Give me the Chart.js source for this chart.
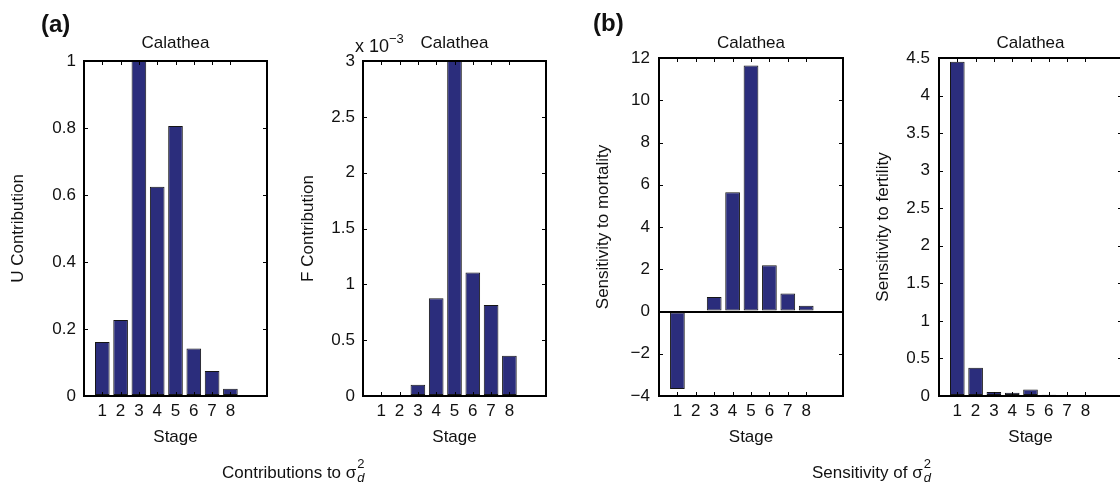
<!DOCTYPE html>
<html>
<head>
<meta charset="utf-8">
<script src="https://cdn.jsdelivr.net/npm/chart.js@4"></script>
<style>
  html, body { margin: 0; padding: 0; background: #fff; overflow: hidden; }
  body { width: 1120px; height: 487px; position: relative; font-family: "Liberation Sans", Arial, sans-serif; color: #111; }
  canvas { position: absolute; top: 0; }
  .txt { position: absolute; white-space: nowrap; font-size: 17px; line-height: 17px; }
  .panel { font-weight: bold; font-size: 24px; line-height: 24px; }
  .ss { position: relative; display: inline-block; width: 9px; height: 1px; }
  .ss .sup, .ss .sub { position: absolute; left: 1px; font-size: 13px; line-height: 13px; }
  .ss .sup { top: -20px; }
  .ss .sub { top: -6px; font-style: italic; }
  .exp { position: relative; top: -9px; font-size: 13px; }
</style>
</head>
<body>
<canvas id="c1" width="280" height="487" style="left:0px"></canvas>
<canvas id="c2" width="280" height="487" style="left:280px"></canvas>
<canvas id="c3" width="300" height="487" style="left:560px"></canvas>
<canvas id="c4" width="280" height="487" style="left:860px"></canvas>

<div class="txt panel" style="left:41px; top:12px">(a)</div>
<div class="txt panel" style="left:593px; top:11px">(b)</div>
<div class="txt" style="left:355px; top:38px; font-size:18px">x 10<span class="exp">&minus;3</span></div>
<div class="txt" style="left:222px; top:464px">Contributions to &sigma;<span class="ss"><span class="sup">2</span><span class="sub">d</span></span></div>
<div class="txt" style="left:812px; top:464px">Sensitivity of &sigma;<span class="ss"><span class="sup">2</span><span class="sub">d</span></span></div>

<script>
// Dati (stadi 1-8, specie Calathea)
const stages = [1, 2, 3, 4, 5, 6, 7, 8];
const uContribution = [0.161, 0.227, 1.0, 0.625, 0.806, 0.142, 0.075, 0.022];
const fContribution = [0, 0, 0.10, 0.875, 3.0, 1.105, 0.815, 0.36];   // x 10^-3
const sensMortality = [-3.67, 0, 0.69, 5.65, 11.65, 2.19, 0.85, 0.27];
const sensFertility = [4.45, 0.375, 0.053, 0.042, 0.085, 0.018, 0.01, 0.003];

const barColor = '#2b2d7c';
const fontFamily = "'Liberation Sans', Arial, sans-serif";
const plotTop = [61, 61, 58, 58];

// Plugin: cornice e tacche interne stile MATLAB
const matlabBox = {
    id: 'matlabBox',
    afterDraw(chart) {
        const { ctx, chartArea: a, scales } = chart;
        const len = 4;
        ctx.save();
        ctx.strokeStyle = '#000';
        ctx.lineWidth = 1;
        ctx.beginPath();
        scales.y.ticks.forEach(t => {
            const py = Math.round(scales.y.getPixelForValue(t.value)) + 0.5;
            ctx.moveTo(a.left, py); ctx.lineTo(a.left + len, py);
            ctx.moveTo(a.right, py); ctx.lineTo(a.right - len, py);
        });
        stages.forEach(s => {
            const px = Math.round(scales.x.getPixelForValue(s)) + 0.5;
            ctx.moveTo(px, a.bottom); ctx.lineTo(px, a.bottom - len);
            ctx.moveTo(px, a.top); ctx.lineTo(px, a.top + len);
        });
        ctx.stroke();
        ctx.lineWidth = 2;
        ctx.strokeRect(a.left, a.top, a.right - a.left, a.bottom - a.top);
        ctx.restore();
    }
};

function fmt(v) {
    return String(+v.toFixed(2)).replace('-', '\u2212');
}

// Crea un pannello a barre
function makePanel(id, values, yTitle, yMin, yMax, yStep, geom) {
    const ctx = document.getElementById(id).getContext('2d');
    const canvasW = ctx.canvas.width;
    return new Chart(ctx, {
        type: 'bar',
        data: {
            datasets: [{
                data: stages.map((s, i) => ({ x: s, y: values[i] })),
                backgroundColor: barColor,
                borderColor: '#151515',
                borderWidth: 1,
                borderSkipped: false,
                barPercentage: 0.8,
                categoryPercentage: 1.0
            }]
        },
        options: {
            responsive: false,
            animation: false,
            events: [],
            layout: { padding: { left: 0, right: canvasW - geom.right, top: 0, bottom: 0 } },
            plugins: { legend: { display: false }, tooltip: { enabled: false }, title: { display: false } },
            scales: {
                x: {
                    type: 'linear',
                    position: 'bottom',
                    min: 0, max: 10,
                    offset: false,
                    grid: { display: false, drawTicks: false },
                    border: { display: false },
                    ticks: {
                        stepSize: 1, autoSkip: false, maxRotation: 0, padding: 5,
                        color: '#111', font: { family: fontFamily, size: 17 },
                        callback: v => (v >= 1 && v <= 8) ? String(v) : ''
                    },
                    title: { display: true, text: 'Stage', color: '#111',
                             font: { family: fontFamily, size: 17 }, padding: { top: 0, bottom: 39 } },
                    afterFit: s => { s.height = 487 - 396; }
                },
                xTop: {
                    type: 'linear',
                    position: 'top',
                    min: 0, max: 10,
                    grid: { display: false, drawTicks: false },
                    border: { display: false },
                    ticks: { display: false },
                    title: { display: true, text: 'Calathea', color: '#111',
                             font: { family: fontFamily, size: 17 }, padding: { top: geom.titleY - 10.2, bottom: 0 } },
                    afterFit: s => { s.height = geom.top; }
                },
                y: {
                    min: yMin, max: yMax,
                    grid: {
                        display: true, drawTicks: false, lineWidth: 2,
                        color: c => (c.tick && c.tick.value === 0 && yMin < 0) ? '#000' : 'rgba(0,0,0,0)'
                    },
                    border: { display: false },
                    ticks: {
                        stepSize: yStep, padding: geom.tickPad, color: '#111',
                        font: { family: fontFamily, size: 17 },
                        callback: v => fmt(v)
                    },
                    title: { display: true, text: yTitle, color: '#111',
                             font: { family: fontFamily, size: 17 }, padding: { top: geom.yTitleX - 10.2, bottom: 0 } },
                    afterFit: s => { s.width = geom.left; }
                }
            }
        },
        plugins: [matlabBox]
    });
}

makePanel('c1', uContribution, 'U Contribution', 0, 1, 0.2,
    { left: 84, right: 267, top: plotTop[0], titleY: 43, tickPad: 8, yTitleX: 18 });
makePanel('c2', fContribution, 'F Contribution', 0, 3, 0.5,
    { left: 83, right: 266, top: plotTop[1], titleY: 43, tickPad: 8, yTitleX: 28 });
makePanel('c3', sensMortality, 'Sensitivity to mortality', -4, 12, 2,
    { left: 99, right: 283, top: plotTop[2], titleY: 43, tickPad: 9, yTitleX: 43 });
makePanel('c4', sensFertility, 'Sensitivity to fertility', 0, 4.5, 0.5,
    { left: 79, right: 262, top: plotTop[3], titleY: 43, tickPad: 9, yTitleX: 23 });
</script>
</body>
</html>
